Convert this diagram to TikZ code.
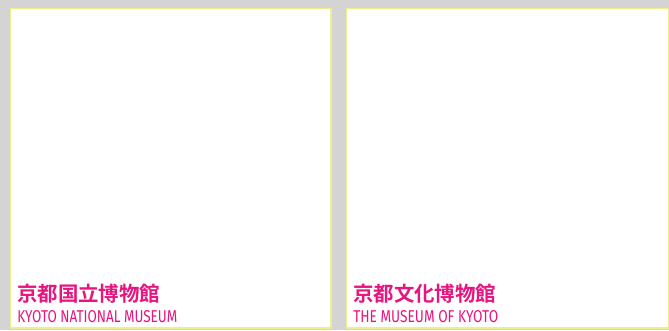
\documentclass[tikz,border=0pt]{standalone}
\usepackage{fontspec}
\usepackage{graphicx}
\newfontfamily\jpfont{Noto Sans CJK JP}[BoldFont={* Bold}]
\newfontfamily\enfont{Fira Sans}
\definecolor{bggray}{HTML}{D4D4D4}
\definecolor{edgeyellow}{HTML}{EDF08A}
\definecolor{mpink}{HTML}{E6157F}
\tikzset{
  panel/.style={draw=edgeyellow, line width=0.9pt, fill=white},
  jptitle/.style={anchor=base west, inner sep=0pt, text=mpink, font=\jpfont\bfseries},
  entitle/.style={anchor=base west, inner sep=0pt, text=mpink, font=\enfont},
}
\begin{document}
\begin{tikzpicture}[x=0.75pt, y=-0.75pt]
\fill[bggray] (0,0) rectangle (669,330);
\useasboundingbox (0,0) rectangle (669,330);
\draw[panel] (10.5,8.5) rectangle (331,328);
\draw[panel] (346.5,8.5) rectangle (668.5,328);
\node[jptitle] (jp1) at (17,301.5) {\resizebox{107.25pt}{!}{京都国立博物館}};
\node[entitle] (en1) at (17,322) {\resizebox{120pt}{9pt}{KYOTO NATIONAL MUSEUM}};
\node[jptitle] (jp2) at (353,301.5) {\resizebox{107.25pt}{!}{京都文化博物館}};
\node[entitle] (en2) at (353,322) {\resizebox{108.75pt}{9pt}{THE MUSEUM OF KYOTO}};
\end{tikzpicture}
\end{document}
